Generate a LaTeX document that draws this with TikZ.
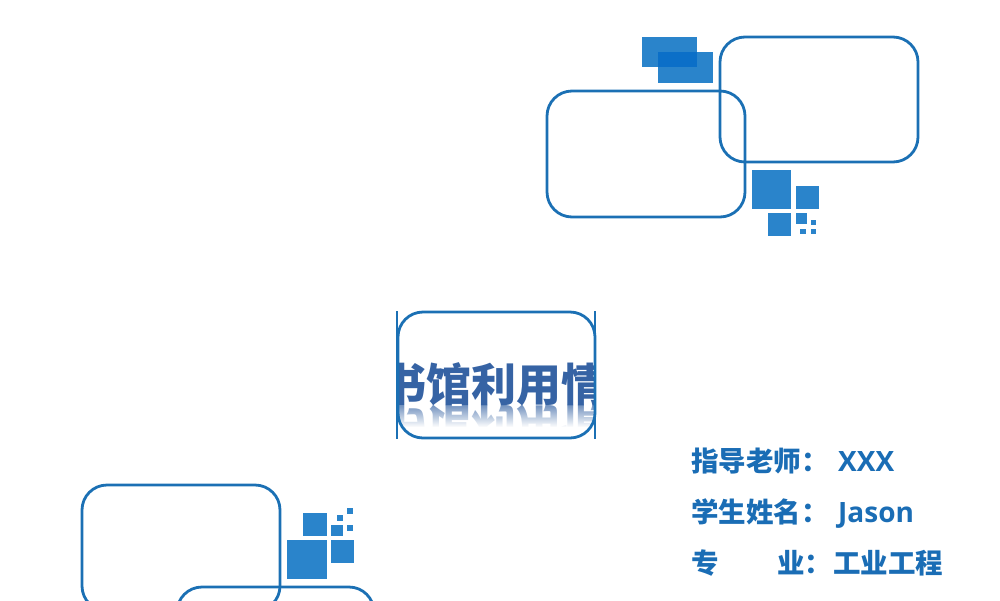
\documentclass[tikz,border=0pt]{standalone}
\usepackage{fontspec}
\usetikzlibrary{fadings}
\newfontfamily\cjk{Noto Sans CJK SC}
\newfontfamily\latn{Open Sans}
\definecolor{frameblue}{HTML}{1B70B4}
\definecolor{squareblue}{HTML}{2A84CB}
\definecolor{overlapblue}{HTML}{0B6FC8}
\definecolor{textblue}{HTML}{1A6DB5}
\definecolor{titleblue}{HTML}{3663A4}
\tikzset{
  frame/.style={draw=frameblue, line width=2.8pt, rounded corners=25pt},
  square/.style={fill=squareblue},
  info/.style={anchor=base west, inner sep=0pt, text=textblue, font=\cjk\bfseries\fontsize{27.5}{30}\selectfont},
  infolatin/.style={anchor=base west, inner sep=0pt, text=textblue, font=\latn\bfseries\fontsize{28}{30}\selectfont},
  titletext/.style={inner sep=0pt, font=\cjk\bfseries\fontsize{45}{50}\selectfont}
}
\begin{document}
\begin{tikzpicture}[x=1pt, y=-1pt]
\useasboundingbox (0,0) rectangle (1000,600);
\begin{scope}
\clip (0,0) rectangle (1000,600);

% top right
\fill [square] (642,37) rectangle (697,67);
\fill [square] (658,52) rectangle (713,83);
\fill [overlapblue] (658,52) rectangle (697,67);
\draw [frame] (720,37) rectangle (918,162);
\draw [frame] (547,91) rectangle (745,217);
\fill [square] (752,170) rectangle (791,209);
\fill [square] (796,186) rectangle (819,209);
\fill [square] (768,213) rectangle (791,236);
\fill [square] (796,213) rectangle (807,224);
\fill [square] (811,220) rectangle (816,225);
\fill [square] (800,229) rectangle (806,234);
\fill [square] (811,229) rectangle (816,234);

% bottom left
\draw [frame] (82,485) rectangle (280,611);
\draw [frame] (177,587) rectangle (374,713);
\fill [square] (303,512.5) rectangle (326.5,536);
\fill [square] (287,540) rectangle (326.5,579);
\fill [square] (330.5,540) rectangle (354,563);
\fill [square] (331,525) rectangle (342.5,535.5);
\fill [square] (337,515) rectangle (342.5,521);
\fill [square] (347,508) rectangle (352.5,514);
\fill [square] (347,525) rectangle (352.5,531);
\end{scope}

% title
\begin{scope}
\clip [rounded corners=25pt] (398,312) rectangle (595,438);
\node [titletext, text=titleblue!70, anchor=base, yscale=-1] (titleshadow) at (494,409) {书馆利用情};
\fill [white, path fading=north] (398,405) rectangle (595,427);
\fill [white] (398,427) rectangle (595,438);
\node [titletext, text=titleblue, anchor=base] (title) at (494,401) {书馆利用情};
\end{scope}
\draw [frame] (398,312) rectangle (595,438);
\draw [draw=frameblue, line width=2.8pt] (397,311)--(397,439) (595,311)--(595,439);

% names
\node [info] (teacher) at (691,471) {指导老师：};
\node [infolatin] (teachername) at (838,471) {XXX};
\node [info] (student) at (691,522) {学生姓名：};
\node [infolatin] (studentname) at (838,522) {Jason};
\node [info] (majorA) at (691,573) {专};
\node [info] (majorB) at (777,573) {业：};
\node [info] (majorname) at (833,573) {工业工程};
\end{tikzpicture}
\end{document}
